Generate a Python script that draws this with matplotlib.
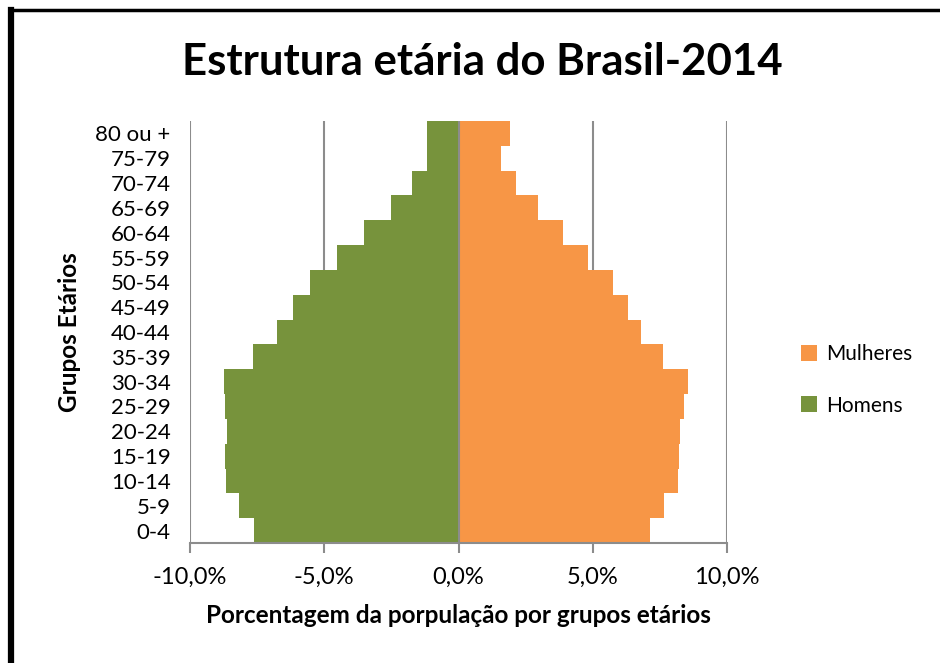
import matplotlib
matplotlib.use("Agg")
import matplotlib.pyplot as plt
from matplotlib.lines import Line2D
from matplotlib.ticker import FuncFormatter

plt.rcParams['font.family'] = ['Lato', 'DejaVu Sans']

# grupos etarios, de baixo para cima
grupos = ['0-4', '5-9', '10-14', '15-19', '20-24', '25-29', '30-34', '35-39',
          '40-44', '45-49', '50-54', '55-59', '60-64', '65-69', '70-74',
          '75-79', '80 ou +']
homens = [7.62, 8.16, 8.67, 8.68, 8.62, 8.69, 8.73, 7.67,
          6.75, 6.18, 5.52, 4.51, 3.51, 2.52, 1.72, 1.18, 1.18]
mulheres = [7.13, 7.64, 8.16, 8.22, 8.25, 8.41, 8.53, 7.60,
            6.78, 6.32, 5.77, 4.84, 3.89, 2.96, 2.15, 1.60, 1.93]
xticks = [-10, -5, 0, 5, 10]

verde = '#77933C'
laranja = '#F79646'
cinza = '#8C8C8C'

fig = plt.figure(figsize=(9.4, 6.63), dpi=100)
ax = fig.add_axes([190 / 940, 1 - 543 / 663, 537 / 940, 422 / 663])

y = range(len(grupos))
b_m = ax.barh(y, mulheres, height=1.0, color=laranja, linewidth=0,
              label='Mulheres', zorder=3)
b_h = ax.barh(y, [-v for v in homens], height=1.0, color=verde, linewidth=0,
              label='Homens', zorder=3)

ax.set_xlim(-10, 10)
ax.set_ylim(-0.5, len(grupos) - 0.5)
ax.set_xticks(xticks)
ax.xaxis.set_major_formatter(FuncFormatter(lambda v, p: f'{v:.1f}%'.replace('.', ',')))
ax.set_yticks(list(y))
ax.set_yticklabels(grupos)

# grade vertical
for xv in xticks:
    ax.axvline(xv, color=cinza, lw=1.5, zorder=1 if xv != 0 else 4)

for s in ['top', 'right', 'left']:
    ax.spines[s].set_visible(False)
ax.spines['bottom'].set_color(cinza)
ax.spines['bottom'].set_linewidth(1.5)
ax.spines['bottom'].set_zorder(5)

ax.tick_params(axis='x', direction='out', length=7, width=1.5, color=cinza,
               labelsize=17, pad=10)
ax.tick_params(axis='y', length=0, labelsize=16, pad=14)

ax.set_xlabel('Porcentagem da porpulação por grupos etários', fontsize=17.5,
              fontweight='bold', labelpad=12)
ax.set_ylabel('Grupos Etários', fontsize=17.5, fontweight='bold', labelpad=10)

fig.text(482 / 940, 1 - 62 / 663, 'Estrutura etária do Brasil-2014', ha='center',
         va='center', fontsize=31.5, fontweight='bold')

fig.legend(handles=[b_m, b_h], labels=['Mulheres', 'Homens'], loc='center left',
           bbox_to_anchor=(782 / 940, 1 - 380 / 663), frameon=False, fontsize=15,
           handlelength=0.8, handleheight=0.8, handletextpad=0.4, labelspacing=1.5)

# moldura preta (so topo e lado esquerdo visiveis)
fig.add_artist(Line2D([11 / 940, 11 / 940], [0, 1 - 9.5 / 663], color='black',
                      lw=4.5, transform=fig.transFigure, solid_capstyle='projecting'))
fig.add_artist(Line2D([11 / 940, 1], [1 - 9.5 / 663, 1 - 9.5 / 663], color='black',
                      lw=2.5, transform=fig.transFigure, solid_capstyle='projecting'))

fig.savefig('out.png', dpi=100)
